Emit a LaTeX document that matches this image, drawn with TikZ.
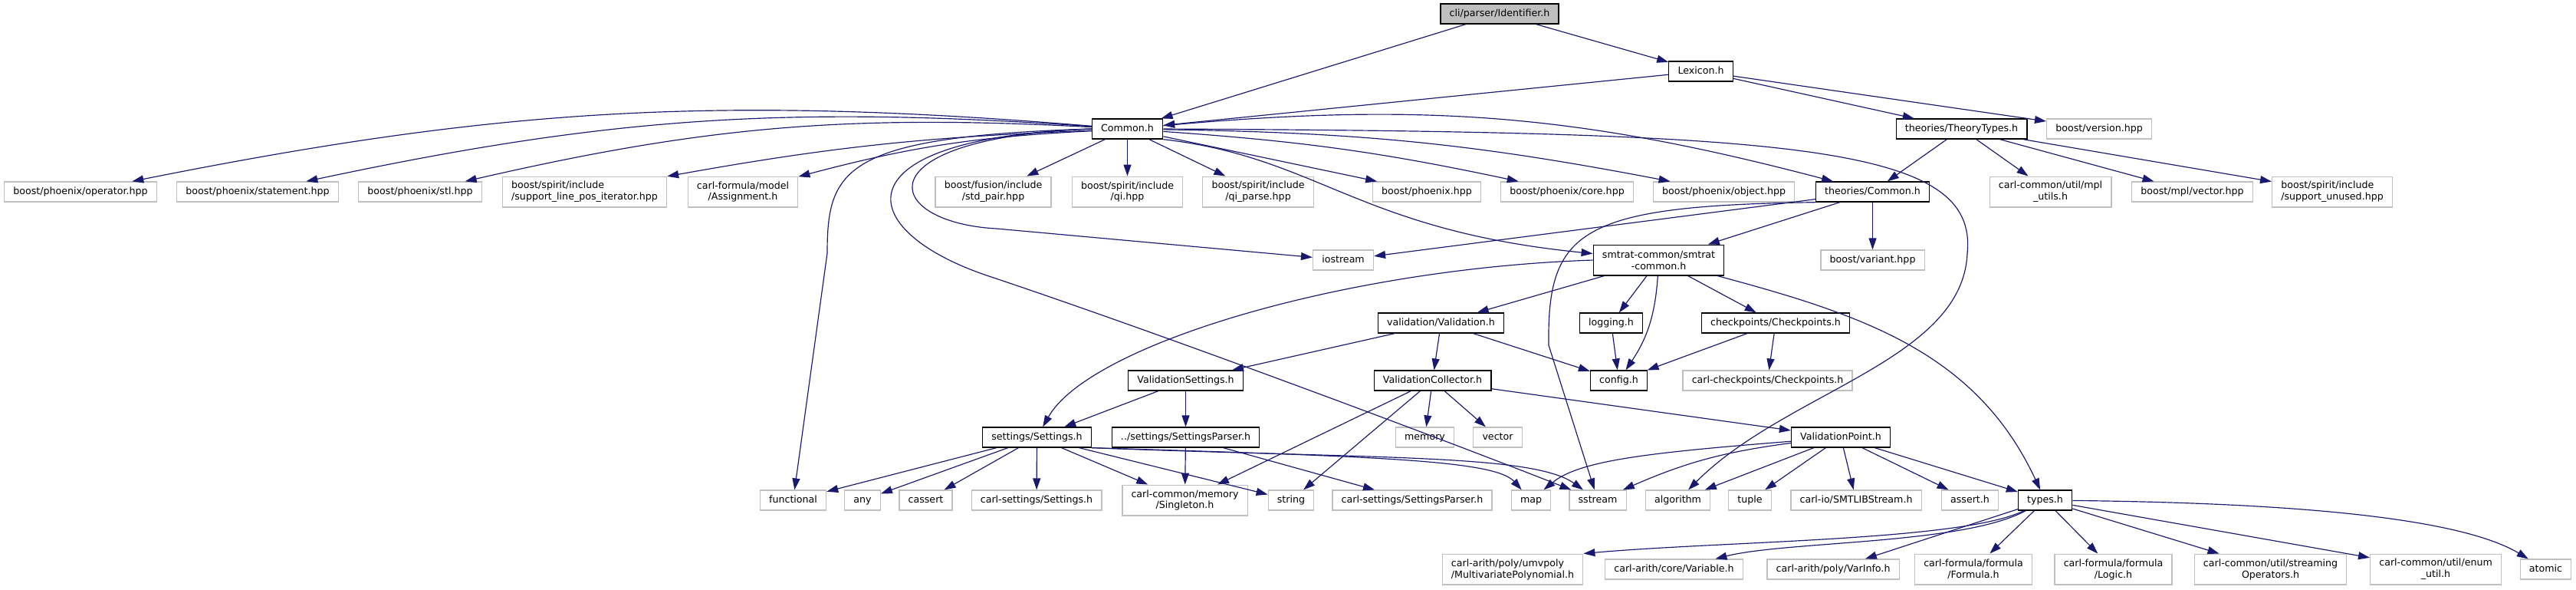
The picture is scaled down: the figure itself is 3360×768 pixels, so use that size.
\documentclass[tikz,border=0pt]{standalone}
\usepackage{fontspec}
\setmainfont{DejaVu Sans}
\usepackage{xcolor}
\usetikzlibrary{arrows.meta}
\definecolor{edgeblue}{HTML}{191970}
\definecolor{boxgray}{HTML}{BFBFBF}

\begin{document}
\begin{tikzpicture}[
        x=0.003cm, y=-0.003cm,
        every node/.style={font=\fontsize{1.08pt}{1.28pt}\selectfont},
        basebox/.style={rectangle, inner xsep=1pt, inner ysep=0.2pt, minimum height=2.22pt, text height=0.82pt, text depth=0.26pt, line width=0.11pt},
        filenode/.style={basebox, draw=black, fill=white},
        sysnode/.style={basebox, draw=boxgray, fill=white},
        rootnode/.style={basebox, draw=black, fill=boxgray},
        twoline/.style={align=center, text height={}, text depth={}, minimum height=3.4pt},
        leftline/.style={twoline, align=left},
        arrow/.style={-{Triangle[length=0.45mm, width=0.3mm]}, draw=edgeblue, line width=0.1pt}
    ]
        \useasboundingbox (0,0) rectangle (3360,768);

        % Rank 0: the file itself
        \node[rootnode] (ident) at (1956,18) {cli/parser/Identifier.h};

        % Rank 1
        \node[filenode] (lexicon) at (2218.5,93) {Lexicon.h};

        % Rank 2
        \node[filenode] (common) at (1470.5,168) {Common.h};
        \node[filenode] (theorytypes) at (2558.5,168) {theories/TheoryTypes.h};
        \node[sysnode] (version) at (2738,168) {boost/version.hpp};

        % Rank 3: boost and carl headers
        \node[sysnode] (op) at (105,250) {boost/phoenix/operator.hpp};
        \node[sysnode] (stmt) at (336,250) {boost/phoenix/statement.hpp};
        \node[sysnode] (stl) at (548,250) {boost/phoenix/stl.hpp};
        \node[sysnode, leftline] (lineit) at (762.5,250) {boost/spirit/include\\/support\_line\_pos\_iterator.hpp};
        \node[sysnode, twoline] (assign) at (969,250) {carl-formula/model\\/Assignment.h};
        \node[sysnode, twoline] (stdpair) at (1295.5,250) {boost/fusion/include\\/std\_pair.hpp};
        \node[sysnode, twoline] (qi) at (1470.5,250) {boost/spirit/include\\/qi.hpp};
        \node[sysnode, twoline] (qiparse) at (1641,250) {boost/spirit/include\\/qi\_parse.hpp};
        \node[sysnode] (phx) at (1861,250) {boost/phoenix.hpp};
        \node[sysnode] (core) at (2044,250) {boost/phoenix/core.hpp};
        \node[sysnode] (object) at (2248.5,250) {boost/phoenix/object.hpp};
        \node[filenode] (thcommon) at (2442.5,250) {theories/Common.h};
        \node[sysnode, twoline] (mplutils) at (2674.5,250) {carl-common/util/mpl\\\_utils.h};
        \node[sysnode] (mplvec) at (2859.5,250) {boost/mpl/vector.hpp};
        \node[sysnode, leftline] (unused) at (3042,250) {boost/spirit/include\\/support\_unused.hpp};

        % Rank 4
        \node[sysnode] (iostream) at (1752,339) {iostream};
        \node[filenode, twoline] (smtrat) at (2163.5,339) {smtrat-common/smtrat\\-common.h};
        \node[sysnode] (variant) at (2442.5,339) {boost/variant.hpp};

        % Rank 5
        \node[filenode] (validation) at (1879.5,421) {validation/Validation.h};
        \node[filenode] (logging) at (2101.5,421) {logging.h};
        \node[filenode] (checkpoints) at (2316,421) {checkpoints/Checkpoints.h};

        % Rank 6
        \node[filenode] (valsettings) at (1546.5,496) {ValidationSettings.h};
        \node[filenode] (valcollector) at (1868.5,496) {ValidationCollector.h};
        \node[filenode] (config) at (2111.5,496) {config.h};
        \node[sysnode] (carlcp) at (2305.5,496) {carl-checkpoints/Checkpoints.h};

        % Rank 7
        \node[filenode] (settings) at (1352.5,570) {settings/Settings.h};
        \node[filenode] (sparser) at (1546.5,570) {../settings/SettingsParser.h};
        \node[sysnode] (memory) at (1858.5,570) {memory};
        \node[sysnode] (vector) at (1953.5,570) {vector};
        \node[filenode] (valpoint) at (2401,570) {ValidationPoint.h};

        % Rank 8
        \node[sysnode] (functional) at (1034.5,652) {functional};
        \node[sysnode] (any) at (1125,652) {any};
        \node[sysnode] (cassert) at (1207.5,652) {cassert};
        \node[sysnode] (carlsettings) at (1352,652) {carl-settings/Settings.h};
        \node[sysnode, twoline] (singleton) at (1545.5,652) {carl-common/memory\\/Singleton.h};
        \node[sysnode] (string) at (1684,652) {string};
        \node[sysnode] (carlsparser) at (1842,652) {carl-settings/SettingsParser.h};
        \node[sysnode] (map) at (1997,652) {map};
        \node[sysnode] (sstream) at (2084,652) {sstream};
        \node[sysnode] (algorithm) at (2188.5,652) {algorithm};
        \node[sysnode] (tuple) at (2282.5,652) {tuple};
        \node[sysnode] (smtlib) at (2421,652) {carl-io/SMTLIBStream.h};
        \node[sysnode] (asserth) at (2569.5,652) {assert.h};
        \node[filenode] (types) at (2667.5,652) {types.h};

        % Rank 9: what types.h pulls in
        \node[sysnode, leftline] (multipoly) at (1973,742) {carl-arith/poly/umvpoly\\/MultivariatePolynomial.h};
        \node[sysnode] (variable) at (2183.5,742) {carl-arith/core/Variable.h};
        \node[sysnode] (varinfo) at (2391,742) {carl-arith/poly/VarInfo.h};
        \node[sysnode, twoline] (formula) at (2574,742) {carl-formula/formula\\/Formula.h};
        \node[sysnode, twoline] (logic) at (2756.5,742) {carl-formula/formula\\/Logic.h};
        \node[sysnode, twoline] (streamops) at (2961.5,742) {carl-common/util/streaming\\Operators.h};
        \node[sysnode, twoline] (enumutil) at (3177,742) {carl-common/util/enum\\\_util.h};
        \node[sysnode] (atomic) at (3320.5,742) {atomic};

        % Identifier.h and Lexicon.h
        \draw[arrow] (ident) -- (common);
        \draw[arrow] (ident) -- (lexicon);
        \draw[arrow] (lexicon) -- (common);
        \draw[arrow] (lexicon) -- (theorytypes);
        \draw[arrow] (lexicon) -- (version);

        % Common.h
        \draw[arrow] (common) to[bend right=8] (op);
        \draw[arrow] (common) to[bend right=8] (stmt);
        \draw[arrow] (common) to[bend right=8] (stl);
        \draw[arrow] (common) to[bend right=4] (lineit);
        \draw[arrow] (common) to[bend right=6] (assign);
        \draw[arrow] (common) -- (stdpair);
        \draw[arrow] (common) -- (qi);
        \draw[arrow] (common) -- (qiparse);
        \draw[arrow] (common) -- (phx);
        \draw[arrow] (common) to[bend left=4] (core);
        \draw[arrow] (common) to[bend left=5] (object);
        \draw[arrow] (common) to[bend left=10] (thcommon);
        \draw[arrow] (common.west) .. controls (1100,178) and (1079,220) .. (1079,330) -- (functional);
        \draw[arrow] (common.west) .. controls (1120,180) and (1150,290) .. (1300,298) -- (iostream);
        \draw[arrow] (common.south east) .. controls (1720,205) and (1770,300) .. (smtrat);
        \draw[arrow] (common.west) .. controls (1090,180) and (1110,300) .. (1290,360) .. controls (1500,430) and (1850,560) .. (sstream);
        \draw[arrow] (common.east) .. controls (2350,172) and (2580,190) .. (2566,330) .. controls (2560,470) and (2330,510) .. (algorithm);

        % theories/TheoryTypes.h
        \draw[arrow] (theorytypes) -- (thcommon);
        \draw[arrow] (theorytypes) -- (mplutils);
        \draw[arrow] (theorytypes) -- (mplvec);
        \draw[arrow] (theorytypes) -- (unused);

        % theories/Common.h
        \draw[arrow] (thcommon) -- (iostream);
        \draw[arrow] (thcommon) -- (smtrat);
        \draw[arrow] (thcommon) -- (variant);
        \draw[arrow] (thcommon.south west) .. controls (2060,268) and (2018,300) .. (2020,450) -- (sstream);

        % smtrat-common.h
        \draw[arrow] (smtrat) -- (validation);
        \draw[arrow] (smtrat) -- (logging);
        \draw[arrow] (smtrat) to[bend left=15] (config);
        \draw[arrow] (smtrat) -- (checkpoints);
        \draw[arrow] (smtrat.west) .. controls (1750,350) and (1420,450) .. (settings);
        \draw[arrow] (smtrat) to[out=-15, in=115] (types);

        % validation, logging, checkpoints
        \draw[arrow] (validation) -- (valsettings);
        \draw[arrow] (validation) -- (valcollector);
        \draw[arrow] (validation) -- (config);
        \draw[arrow] (logging) -- (config);
        \draw[arrow] (checkpoints) -- (config);
        \draw[arrow] (checkpoints) -- (carlcp);

        % ValidationSettings.h and ValidationCollector.h
        \draw[arrow] (valsettings) -- (settings);
        \draw[arrow] (valsettings) -- (sparser);
        \draw[arrow] (valcollector) -- (memory);
        \draw[arrow] (valcollector) -- (vector);
        \draw[arrow] (valcollector) -- (valpoint);
        \draw[arrow] (valcollector) -- (singleton);
        \draw[arrow] (valcollector) -- (string);

        % settings/Settings.h and SettingsParser.h
        \draw[arrow] (settings) -- (functional);
        \draw[arrow] (settings) -- (any);
        \draw[arrow] (settings) -- (cassert);
        \draw[arrow] (settings) -- (carlsettings);
        \draw[arrow] (settings) -- (singleton);
        \draw[arrow] (settings) -- (string);
        \draw[arrow] (settings.south east) .. controls (1800,595) and (1950,600) .. (map);
        \draw[arrow] (settings.south east) .. controls (1800,598) and (2000,592) .. (sstream);
        \draw[arrow] (sparser) -- (singleton);
        \draw[arrow] (sparser) -- (carlsparser);

        % ValidationPoint.h
        \draw[arrow] (valpoint) .. controls (2150,590) and (2060,600) .. (map);
        \draw[arrow] (valpoint) to[bend right=8] (sstream);
        \draw[arrow] (valpoint) -- (algorithm);
        \draw[arrow] (valpoint) -- (tuple);
        \draw[arrow] (valpoint) -- (smtlib);
        \draw[arrow] (valpoint) -- (asserth);
        \draw[arrow] (valpoint) -- (types);

        % types.h
        \draw[arrow] (types) .. controls (2560,705) and (2250,705) .. (multipoly.north east);
        \draw[arrow] (types) .. controls (2560,710) and (2330,705) .. (variable);
        \draw[arrow] (types) -- (varinfo);
        \draw[arrow] (types) -- (formula);
        \draw[arrow] (types) -- (logic);
        \draw[arrow] (types) -- (streamops);
        \draw[arrow] (types) -- (enumutil);
        \draw[arrow] (types) .. controls (2950,655) and (3200,670) .. (atomic);

    \end{tikzpicture}
\end{document}
